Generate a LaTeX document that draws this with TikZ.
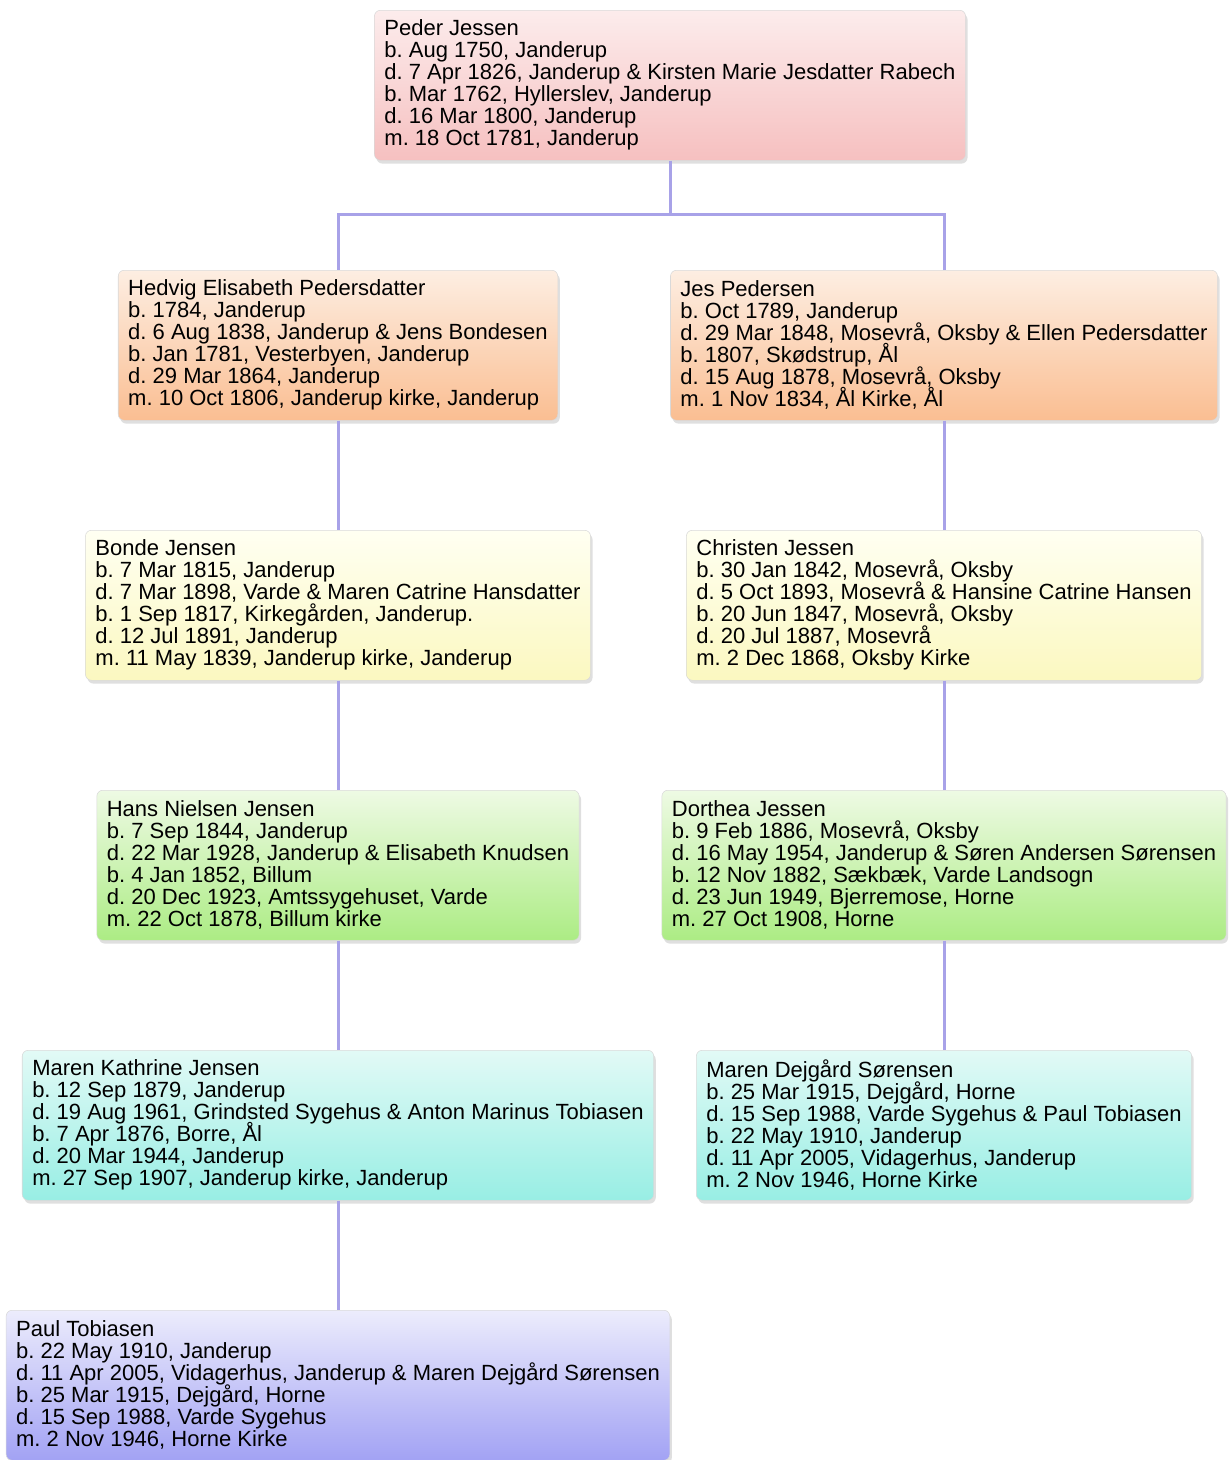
\documentclass[tikz,border=0pt]{standalone}
\usepackage{fontspec}
\setmainfont{Liberation Sans}
\usetikzlibrary{shadows}
\frenchspacing
\newcommand\personfont{\fontsize{16.5}{16.5}\selectfont\lineskiplimit=-20pt\relax\lineskip=0pt\relax}
\definecolor{linkc}{RGB}{168,162,232}
\definecolor{pinkA}{RGB}{252,236,236}
\definecolor{pinkB}{RGB}{246,192,192}
\definecolor{orangeA}{RGB}{253,238,226}
\definecolor{orangeB}{RGB}{250,190,146}
\definecolor{yellowA}{RGB}{255,255,242}
\definecolor{yellowB}{RGB}{251,248,192}
\definecolor{greenA}{RGB}{238,250,228}
\definecolor{greenB}{RGB}{172,236,132}
\definecolor{cyanA}{RGB}{226,250,246}
\definecolor{cyanB}{RGB}{152,238,228}
\definecolor{blueA}{RGB}{236,236,252}
\definecolor{blueB}{RGB}{162,162,244}
\begin{document}
\begin{tikzpicture}[x=0.75pt,y=-0.75pt]
\tikzstyle{person}=[anchor=north,draw=black!15,rounded corners=4.5pt,align=left,inner xsep=7.5pt,minimum height=112.5pt,font=\personfont,drop shadow={shadow xshift=1.5pt,shadow yshift=-2.5pt,opacity=0.25}]
\tikzstyle{link}=[draw=linkc,line width=2.25pt]
\useasboundingbox (0,0) rectangle (1228,1460);
\node (1) at (670,10) [person,top color=pinkA,bottom color=pinkB]{Peder Jessen\\b. Aug 1750, Janderup\\d. 7 Apr 1826, Janderup \& Kirsten Marie Jesdatter Rabech\\b. Mar 1762, Hyllerslev, Janderup\\d. 16 Mar 1800, Janderup\\m. 18 Oct 1781, Janderup};
\node (2) at (338,270) [person,top color=orangeA,bottom color=orangeB]{Hedvig Elisabeth Pedersdatter\\b. 1784, Janderup\\d. 6 Aug 1838, Janderup \& Jens Bondesen\\b. Jan 1781, Vesterbyen, Janderup\\d. 29 Mar 1864, Janderup\\m. 10 Oct 1806, Janderup kirke, Janderup};
\node (3) at (944,270) [person,top color=orangeA,bottom color=orangeB]{Jes Pedersen\\b. Oct 1789, Janderup\\d. 29 Mar 1848, Mosevrå, Oksby \& Ellen Pedersdatter\\b. 1807, Skødstrup, Ål\\d. 15 Aug 1878, Mosevrå, Oksby\\m. 1 Nov 1834, Ål Kirke, Ål};
\node (4) at (338,530) [person,top color=yellowA,bottom color=yellowB]{Bonde Jensen\\b. 7 Mar 1815, Janderup\\d. 7 Mar 1898, Varde \& Maren Catrine Hansdatter\\b. 1 Sep 1817, Kirkegården, Janderup.\\d. 12 Jul 1891, Janderup\\m. 11 May 1839, Janderup kirke, Janderup};
\node (5) at (944,530) [person,top color=yellowA,bottom color=yellowB]{Christen Jessen\\b. 30 Jan 1842, Mosevrå, Oksby\\d. 5 Oct 1893, Mosevrå \& Hansine Catrine Hansen\\b. 20 Jun 1847, Mosevrå, Oksby\\d. 20 Jul 1887, Mosevrå\\m. 2 Dec 1868, Oksby Kirke};
\node (6) at (338,790) [person,top color=greenA,bottom color=greenB]{Hans Nielsen Jensen\\b. 7 Sep 1844, Janderup\\d. 22 Mar 1928, Janderup \& Elisabeth Knudsen\\b. 4 Jan 1852, Billum\\d. 20 Dec 1923, Amtssygehuset, Varde\\m. 22 Oct 1878, Billum kirke};
\node (7) at (944,790) [person,top color=greenA,bottom color=greenB]{Dorthea Jessen\\b. 9 Feb 1886, Mosevrå, Oksby\\d. 16 May 1954, Janderup \& Søren Andersen Sørensen\\b. 12 Nov 1882, Sækbæk, Varde Landsogn\\d. 23 Jun 1949, Bjerremose, Horne\\m. 27 Oct 1908, Horne};
\node (8) at (338,1050) [person,top color=cyanA,bottom color=cyanB]{Maren Kathrine Jensen\\b. 12 Sep 1879, Janderup\\d. 19 Aug 1961, Grindsted Sygehus \& Anton Marinus Tobiasen\\b. 7 Apr 1876, Borre, Ål\\d. 20 Mar 1944, Janderup\\m. 27 Sep 1907, Janderup kirke, Janderup};
\node (9) at (944,1050) [person,top color=cyanA,bottom color=cyanB]{Maren Dejgård Sørensen\\b. 25 Mar 1915, Dejgård, Horne\\d. 15 Sep 1988, Varde Sygehus \& Paul Tobiasen\\b. 22 May 1910, Janderup\\d. 11 Apr 2005, Vidagerhus, Janderup\\m. 2 Nov 1946, Horne Kirke};
\node (10) at (338,1310) [person,top color=blueA,bottom color=blueB]{Paul Tobiasen\\b. 22 May 1910, Janderup\\d. 11 Apr 2005, Vidagerhus, Janderup \& Maren Dejgård Sørensen\\b. 25 Mar 1915, Dejgård, Horne\\d. 15 Sep 1988, Varde Sygehus\\m. 2 Nov 1946, Horne Kirke};
\coordinate (11) at (670,214);

\draw[link] (1) -- (11);
\draw[link] (11) -| (2);
\draw[link] (11) -| (3);
\draw[link] (2) -- (4);
\draw[link] (4) -- (6);
\draw[link] (6) -- (8);
\draw[link] (8) -- (10);
\draw[link] (3) -- (5);
\draw[link] (5) -- (7);
\draw[link] (7) -- (9);
\end{tikzpicture}
\end{document}
